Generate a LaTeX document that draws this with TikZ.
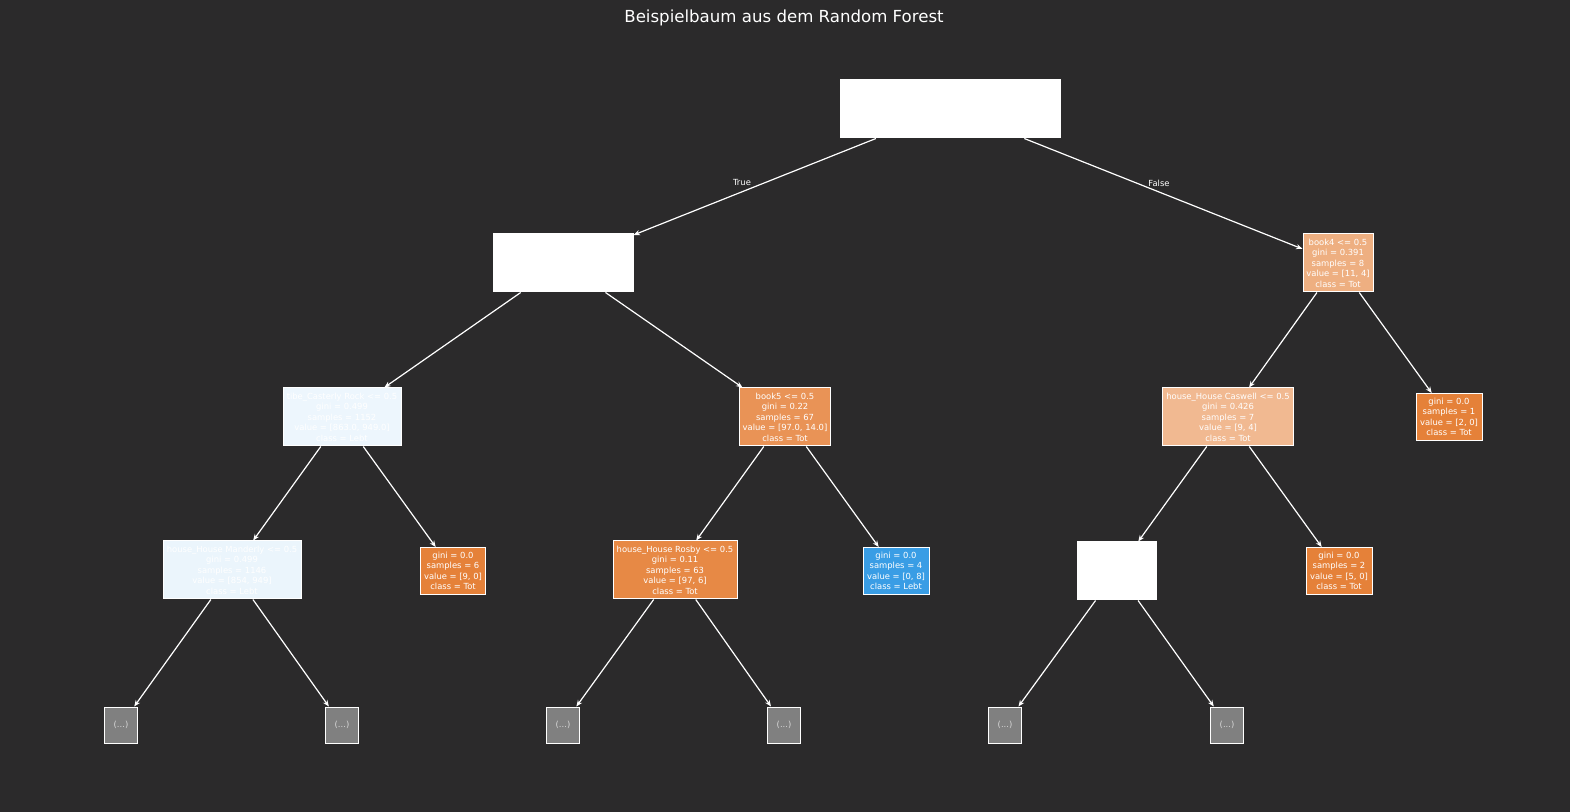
\documentclass[tikz,border=0pt]{standalone}
\usepackage{fontspec}
\setmainfont{DejaVu Sans}
\usepackage{tikz}
\usetikzlibrary{arrows.meta}
\definecolor{bg}{RGB}{43,42,43}
\definecolor{tot}{RGB}{229,129,57}
\definecolor{lebt}{RGB}{57,157,229}
\definecolor{casterlyfill}{RGB}{237,246,253}
\definecolor{manderlyfill}{RGB}{235,245,252}
\definecolor{bookfivefill}{RGB}{233,147,86}
\definecolor{rosbyfill}{RGB}{231,137,69}
\definecolor{bookfourfill}{RGB}{238,175,129}
\definecolor{caswellfill}{RGB}{241,185,145}
\definecolor{moregray}{RGB}{128,128,128}
\definecolor{moretext}{RGB}{215,215,215}

\begin{document}
\begin{tikzpicture}[x=0.5pt,y=-0.5pt,
  split/.style={draw=white, line width=0.5pt, text=white, inner sep=0pt,
    minimum height=29pt, align=center, font=\fontsize{4.2}{5.25}\selectfont},
  leaf/.style={split, minimum height=23.5pt},
  more/.style={split, fill=moregray, text=moretext, minimum width=16.5pt, minimum height=18pt},
  edge/.style={draw=white, line width=0.6pt, -{Stealth[length=3.2pt,width=2.6pt]}},
  lbl/.style={text=white, font=\fontsize{4.2}{5}\selectfont}]
\fill[bg] (0,0) rectangle (1570,812);
\node[text=white, font=\fontsize{8.3}{10}\selectfont] (titel) at (784,18) {Beispielbaum aus dem Random Forest};

% level 0 and 1
\node[split, fill=white, minimum width=110pt] (root) at (950,109) {};
\node[split, fill=white, minimum width=70pt] (links) at (563,263) {};
\node[split, fill=bookfourfill, minimum width=35pt] (book4) at (1338,263) {book4 <= 0.5\\gini = 0.391\\samples = 8\\value = [11, 4]\\class = Tot};

% level 2
\node[split, fill=casterlyfill, minimum width=59pt] (casterly) at (342,417) {tibe\_Casterly Rock <= 0.5\\gini = 0.499\\samples = 1152\\value = [863.0, 949.0]\\class = Lebt};
\node[split, fill=bookfivefill, minimum width=45.5pt] (book5) at (785,417) {book5 <= 0.5\\gini = 0.22\\samples = 67\\value = [97.0, 14.0]\\class = Tot};
\node[split, fill=caswellfill, minimum width=65.5pt] (caswell) at (1228,417) {house\_House Caswell <= 0.5\\gini = 0.426\\samples = 7\\value = [9, 4]\\class = Tot};
\node[leaf, fill=tot, minimum width=33pt] (blattA) at (1449,417) {gini = 0.0\\samples = 1\\value = [2, 0]\\class = Tot};

% level 3
\node[split, fill=manderlyfill, minimum width=69pt] (manderly) at (232,570) {house\_House Manderly <= 0.5\\gini = 0.499\\samples = 1146\\value = [854, 949]\\class = Lebt};
\node[leaf, fill=tot, minimum width=32.5pt] (blattB) at (453,571) {gini = 0.0\\samples = 6\\value = [9, 0]\\class = Tot};
\node[split, fill=rosbyfill, minimum width=62pt] (rosby) at (675,570) {house\_House Rosby <= 0.5\\gini = 0.11\\samples = 63\\value = [97, 6]\\class = Tot};
\node[leaf, fill=lebt, minimum width=33pt] (blattC) at (896,571) {gini = 0.0\\samples = 4\\value = [0, 8]\\class = Lebt};
\node[split, fill=white, minimum width=39.5pt] (weiss) at (1117,571) {};
\node[leaf, fill=tot, minimum width=33pt] (blattD) at (1339,571) {gini = 0.0\\samples = 2\\value = [5, 0]\\class = Tot};

% level 4
\node[more] (mehrA) at (121,725) {(...)};
\node[more] (mehrB) at (342,725) {(...)};
\node[more] (mehrC) at (563,725) {(...)};
\node[more] (mehrD) at (784,725) {(...)};
\node[more] (mehrE) at (1005,725) {(...)};
\node[more] (mehrF) at (1227,725) {(...)};

% connectors
\draw[edge] (root) -- (links);
\draw[edge] (root) -- (book4);
\draw[edge] (links) -- (casterly);
\draw[edge] (links) -- (book5);
\draw[edge] (book4) -- (caswell);
\draw[edge] (book4) -- (blattA);
\draw[edge] (casterly) -- (manderly);
\draw[edge] (casterly) -- (blattB);
\draw[edge] (book5) -- (rosby);
\draw[edge] (book5) -- (blattC);
\draw[edge] (caswell) -- (weiss);
\draw[edge] (caswell) -- (blattD);
\draw[edge] (manderly) -- (mehrA);
\draw[edge] (manderly) -- (mehrB);
\draw[edge] (rosby) -- (mehrC);
\draw[edge] (rosby) -- (mehrD);
\draw[edge] (weiss) -- (mehrE);
\draw[edge] (weiss) -- (mehrF);

\node[lbl] (wahr) at (742,183) {True};
\node[lbl] (falsch) at (1159,183) {False};
\end{tikzpicture}
\end{document}
